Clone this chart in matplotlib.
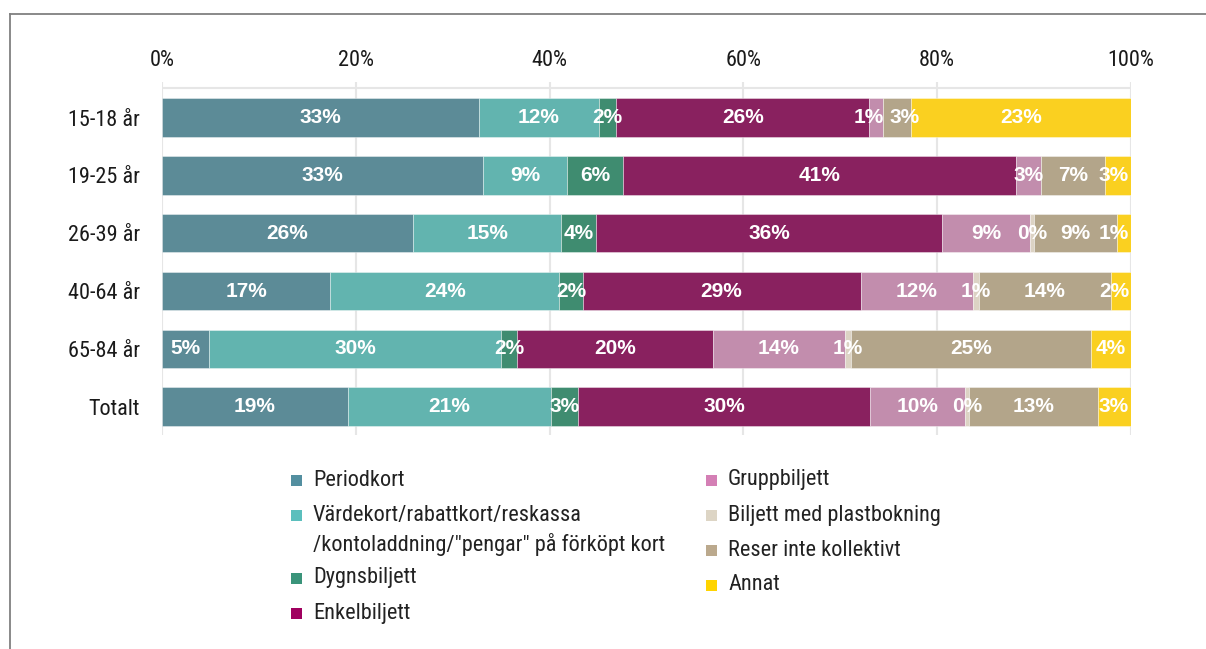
import matplotlib
matplotlib.use("Agg")
import matplotlib.pyplot as plt
from matplotlib.patches import Rectangle
from matplotlib.lines import Line2D
import numpy as np

plt.rcParams['font.family'] = ['Liberation Sans Narrow', 'Roboto Condensed',
                               'Liberation Sans', 'DejaVu Sans']
LABEL_FONT = ['Liberation Sans', 'DejaVu Sans']

categories = ["15-18 år", "19-25 år", "26-39 år", "40-64 år", "65-84 år", "Totalt"]

series_names = [
    "Periodkort",
    "Värdekort/rabattkort/reskassa\n/kontoladdning/\"pengar\" på förköpt kort",
    "Dygnsbiljett",
    "Enkelbiljett",
    "Gruppbiljett",
    "Biljett med plastbokning",
    "Reser inte kollektivt",
    "Annat",
]

periodkort   = [32.7, 33.1, 25.9, 17.35, 4.9, 19.2]
vardekort    = [12.4, 8.7, 15.3, 23.65, 30.05, 20.9]
dygnsbiljett = [1.8, 5.8, 3.6, 2.4, 1.7, 2.86]
enkelbiljett = [26.1, 40.55, 35.7, 28.7, 20.2, 30.1]
gruppbiljett = [1.4, 2.6, 9.06, 11.6, 13.6, 9.8]
plastbokning = [0.0, 0.0, 0.4, 0.6, 0.66, 0.45]
reser_inte   = [2.9, 6.55, 8.6, 13.6, 24.8, 13.3]
annat        = [22.7, 2.7, 1.4, 2.1, 4.1, 3.4]

series_values = [periodkort, vardekort, dygnsbiljett, enkelbiljett,
                 gruppbiljett, plastbokning, reser_inte, annat]

bar_colors = ["#5C8B97", "#62B4AF", "#3F8C70", "#89215F",
              "#C28DAD", "#DCD3C4", "#B3A58A", "#FAD020"]
legend_colors = ["#538FA0", "#5BBFBD", "#3A947A", "#A0005F",
                 "#D47FB5", "#DDD5C5", "#BBA98D", "#FFD400"]

xticks = [0, 20, 40, 60, 80, 100]
xtick_labels = ["0%", "20%", "40%", "60%", "80%", "100%"]

W, H = 1206, 649
fig = plt.figure(figsize=(W / 100, H / 100), dpi=100)
ax = fig.add_axes([162 / W, 1 - 435 / H, 969 / W, (435 - 82) / H])

y = np.arange(len(categories))
left = np.zeros(len(categories))
row_labels = [[] for _ in categories]
for vals, col in zip(series_values, bar_colors):
    vals = np.array(vals)
    bars = ax.barh(y, vals, left=left, height=0.664, color=col,
                   edgecolor=(1, 1, 1, 0.45), linewidth=0.6, zorder=2)
    labels = [f"{round(v)}%" if v > 0 else "" for v in vals]
    anns = ax.bar_label(bars, labels=labels, label_type='center', color='white',
                        fontsize=15, fontweight='bold', family=LABEL_FONT, zorder=5)
    for r, (a, lab) in enumerate(zip(anns, labels)):
        if lab:
            row_labels[r].append(a)
    left += vals

ax.set_xlim(0, 100)
ax.set_ylim(5.49, -0.614)
ax.set_yticks(y)
ax.set_yticklabels(categories, fontsize=16, color="#1a1a1a")
ax.set_xticks(xticks)
ax.set_xticklabels(xtick_labels, fontsize=16, color="#1a1a1a")
ax.xaxis.tick_top()
ax.tick_params(axis='x', length=0, pad=8)
ax.tick_params(axis='y', length=0, pad=16)
ax.grid(axis='x', color="#E6E6E6", linewidth=1.5, zorder=0)
ax.axhline(-0.51, color="#E6E6E6", linewidth=1.5, zorder=1)
for s in ax.spines.values():
    s.set_visible(False)

# nudge overlapping value labels apart (and keep them inside the plot)
fig.canvas.draw()
renderer = fig.canvas.get_renderer()
right_edge = ax.get_window_extent().x1 - 2
gap = 6
for anns in row_labels:
    boxes = [a.get_window_extent(renderer) for a in anns]
    x0 = [b.x0 for b in boxes]
    x1 = [b.x1 for b in boxes]
    shift = [0.0] * len(anns)
    for i in range(len(anns) - 1):
        ov = (x1[i] + shift[i] + gap) - (x0[i + 1] + shift[i + 1])
        if ov > 0:
            shift[i] -= ov / 2
            shift[i + 1] += ov / 2
    excess = x1[-1] + shift[-1] - right_edge
    if excess > 0:
        shift[-1] -= excess
        for i in range(len(anns) - 2, -1, -1):
            ov = (x1[i] + shift[i] + gap) - (x0[i + 1] + shift[i + 1])
            if ov > 0:
                shift[i] -= ov
            else:
                break
    for a, s in zip(anns, shift):
        if s != 0:
            a.xyann = (s * 72 / fig.dpi, 0)

# legend (manual, two columns)
def px(xp, yp):
    return xp / W, 1 - yp / H

col_x = [(291, 313), (706, 728)]
cols = [range(0, 4), range(4, 8)]
sw = 11
for (sx, tx), idxs in zip(col_x, cols):
    yc = 480
    for i in idxs:
        lines = series_names[i].split("\n")
        fig.patches.append(Rectangle(px(sx, yc + sw / 2), sw / W, sw / H,
                                     transform=fig.transFigure,
                                     facecolor=legend_colors[i], edgecolor='none'))
        for k, ln in enumerate(lines):
            fx, fy = px(tx, yc + 30 * k)
            fig.text(fx, fy, ln, fontsize=16, color="#222222", va='center', ha='left')
        yc += 35 + 28 * (len(lines) - 1)

# outer frame (left and top lines)
fig.add_artist(Line2D([10 / W, 10 / W], [0, 1 - 14 / H], transform=fig.transFigure,
                      color="#808080", linewidth=1.3))
fig.add_artist(Line2D([10 / W, 1], [1 - 14 / H, 1 - 14 / H], transform=fig.transFigure,
                      color="#808080", linewidth=1.3))

fig.savefig("out.png", dpi=100)
